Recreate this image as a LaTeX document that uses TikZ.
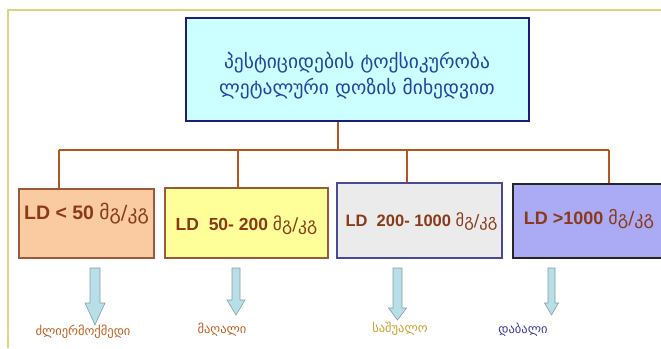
\documentclass[tikz,border=0pt]{standalone}
\usepackage{fontspec}
\setmainfont{Liberation Sans}
\newfontfamily\geo[Script=Georgian]{DejaVu Sans}
\usepackage{tikz}
\usetikzlibrary{positioning}
\definecolor{frameyel}{HTML}{D8D680}
\definecolor{linkbrown}{HTML}{B4561E}
\definecolor{topfill}{HTML}{CCFFFF}
\definecolor{topline}{HTML}{1C1C7C}
\definecolor{topink}{HTML}{2444A0}
\definecolor{ldink}{HTML}{8A3A18}
\definecolor{arrowfill}{HTML}{B8DEE8}
\definecolor{arrowline}{HTML}{80A0AA}
\tikzset{
    topbox/.style={draw=topline, line width=2.4pt, fill=topfill, minimum width=343pt, minimum height=103pt, inner sep=0pt},
    ldbox/.style={line width=1.8pt, inner sep=0pt},
    ldtext/.style={text=ldink, font=\bfseries, inner sep=0pt},
    link/.style={draw=linkbrown, line width=1.8pt},
    degree/.style={font=\geo\fontsize{12.5}{14}\selectfont, inner sep=0pt},
}
% block arrow pointing down: x, top, head start, tip, shaft half, head half
\newcommand\dnarrow[6]{%
  \filldraw[fill=arrowfill, draw=arrowline, line width=0.6pt]
    (#1-#5,#2) -- (#1+#5,#2) -- (#1+#5,#3) -- (#1+#6,#3) -- (#1,#4)
    -- (#1-#6,#3) -- (#1-#5,#3) -- cycle;}
\newcommand\kg{{\geo\mdseries მგ/კგ}}

\begin{document}
\begin{tikzpicture}[x=1pt, y=-1pt]
    \useasboundingbox (0,0) rectangle (661,348);
    \draw[frameyel, line width=2pt] (8,348) -- (8,10) -- (661,10);

    \node[topbox] (top) at (357.5,69.5) {};
    \node[text=topink, align=center, font=\geo\fontsize{19.5}{26}\selectfont, inner sep=0pt] (toptext) at (357,76)
        {პესტიციდების ტოქსიკურობა\\ლეტალური დოზის მიხედვით};

    \node[ldbox, draw=ldink!85, fill={rgb,255:red,250;green,202;blue,160}, minimum width=135pt, minimum height=69pt] (ld1) at (86.5,223.5) {};
    \node[ldbox, draw=ldink!85, fill={rgb,255:red,255;green,255;blue,153}, minimum width=163pt, minimum height=70pt] (ld2) at (246.5,223) {};
    \node[ldbox, draw=topline!80, fill={rgb,255:red,235;green,235;blue,235}, minimum width=165pt, minimum height=75pt] (ld3) at (419.5,220.5) {};
    \node[ldbox, draw=black!85, fill={rgb,255:red,170;green,170;blue,245}, minimum width=187pt, minimum height=74pt] (ld4) at (606.5,221) {};

    \node[ldtext, font=\bfseries\fontsize{19.5}{22}\selectfont] (t1) at (86.5,214) {LD < 50 \kg};
    \node[ldtext, font=\bfseries\fontsize{17.5}{20}\selectfont] (t2) at (246.5,225) {LD\ \ 50- 200 \kg};
    \node[ldtext, font=\bfseries\fontsize{16.5}{19}\selectfont] (t3) at (421.5,222) {LD\ \ 200- 1000 \kg};
    \node[ldtext, font=\bfseries\fontsize{18}{20}\selectfont] (t4) at (589,219.5) {LD >1000 \kg};

    % bus
    \coordinate (bus) at (338,150);
    \coordinate (busL) at (59,150);
    \coordinate (busR) at (609,150);
    \coordinate (d2) at (238,150);
    \coordinate (d3) at (407,150);
    \draw[link] (top.south -| bus) -- (bus);
    \draw[link] (busL) -- (busR);
    \draw[link] (busL) -- (ld1.north -| busL);
    \draw[link] (d2) -- (ld2.north -| d2);
    \draw[link] (d3) -- (ld3.north -| d3);
    \draw[link] (busR) -- (ld4.north -| busR);

    \dnarrow{95}{268}{303}{325}{5}{10}
    \dnarrow{236}{268}{300}{315}{4}{9}
    \dnarrow{397.5}{268}{308}{320}{4.5}{9}
    \dnarrow{551.5}{268}{303}{315}{3.5}{7}

    \node[degree, text={rgb,255:red,192;green,96;blue,30}] (g1) at (83,332) {ძლიერმოქმედი};
    \node[degree, text={rgb,255:red,192;green,96;blue,30}] (g2) at (222,330) {მაღალი};
    \node[degree, text={rgb,255:red,200;green,160;blue,42}] (g3) at (400,329) {საშუალო};
    \node[degree, text={rgb,255:red,60;green,60;blue,156}] (g4) at (523,330) {დაბალი};
\end{tikzpicture}
\end{document}
